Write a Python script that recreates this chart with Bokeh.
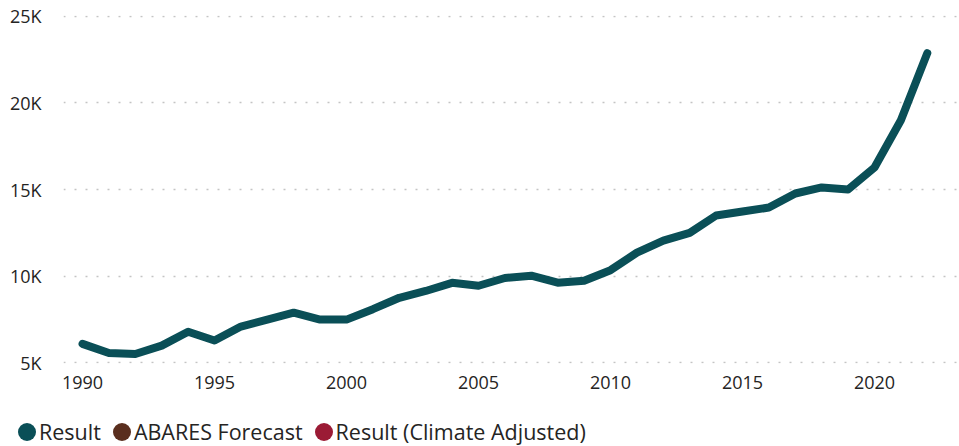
from bokeh.plotting import figure
from bokeh.layouts import column
from bokeh.models import FixedTicker, Range1d, ColumnDataSource, Div
from bokeh.embed import file_html
from bokeh.resources import INLINE

years = list(range(1990, 2023))
result = [6100, 5580, 5520, 6000, 6800, 6300, 7100, 7500, 7900, 7500,
          7500, 8100, 8760, 9150, 9620, 9450, 9900, 10030, 9630, 9740,
          10350, 11360, 12050, 12500, 13500, 13730, 13960, 14770, 15120, 15000,
          16270, 18990, 22860]
y_ticks = [5000, 10000, 15000, 20000, 25000]
y_labels = ["5K", "10K", "15K", "20K", "25K"]
x_ticks = [1990, 1995, 2000, 2005, 2010, 2015, 2020]
series_names = ["Result", "ABARES Forecast", "Result (Climate Adjusted)"]
series_colors = ["#0A4F57", "#5A2E1E", "#9B1B35"]

FONT = "Open Sans"
TEXT_COLOR = "#252423"

p = figure(width=959, height=400, output_backend="svg", toolbar_location=None,
           x_range=Range1d(1989.28, 2023.22), y_range=Range1d(4970, 25030),
           min_border_left=63, min_border_right=0, min_border_top=15, min_border_bottom=37)
p.outline_line_color = None
p.background_fill_color = "white"
p.border_fill_color = "white"

src = ColumnDataSource(dict(x=years, y=result))
p.line("x", "y", source=src, line_color=series_colors[0], line_width=8,
       line_cap="round", line_join="round")

p.xaxis.ticker = FixedTicker(ticks=x_ticks)
p.yaxis.ticker = FixedTicker(ticks=y_ticks)
p.yaxis.major_label_overrides = {t: l for t, l in zip(y_ticks, y_labels)}
for ax in (p.xaxis, p.yaxis):
    ax.axis_line_color = None
    ax.major_tick_line_color = None
    ax.minor_tick_line_color = None
    ax.major_label_text_font = FONT
    ax.major_label_text_font_size = "18px"
    ax.major_label_text_color = TEXT_COLOR
p.yaxis.major_label_standoff = 16
p.xaxis.major_label_standoff = 6

p.xgrid.grid_line_color = None
p.ygrid.ticker = FixedTicker(ticks=y_ticks)
p.ygrid.grid_line_color = "#c4c4c4"
p.ygrid.grid_line_dash = "2 9"
p.ygrid.grid_line_width = 1.5

# legend strip below the chart (HTML, so it is not clipped to a plot frame)
items_html = []
for i, (name, col) in enumerate(zip(series_names, series_colors)):
    ml = 18 if i == 0 else 12
    items_html.append(
        f'<span style="display:inline-block;flex:none;width:18px;height:18px;border-radius:50%;'
        f'background:{col};margin-left:{ml}px;margin-right:3px;"></span>'
        f'<span style="flex:none;">{name}</span>')
html = (f'<div style="display:flex;align-items:center;height:28px;margin-top:18px;'
        f'font-family:\'{FONT}\';font-size:21.5px;color:{TEXT_COLOR};white-space:nowrap;">'
        + "".join(items_html) + '</div>')
lg = Div(text=html, width=959, height=46, margin=0)

layout = column(p, lg, spacing=0)
open("out.html", "w").write(file_html(layout, INLINE))
